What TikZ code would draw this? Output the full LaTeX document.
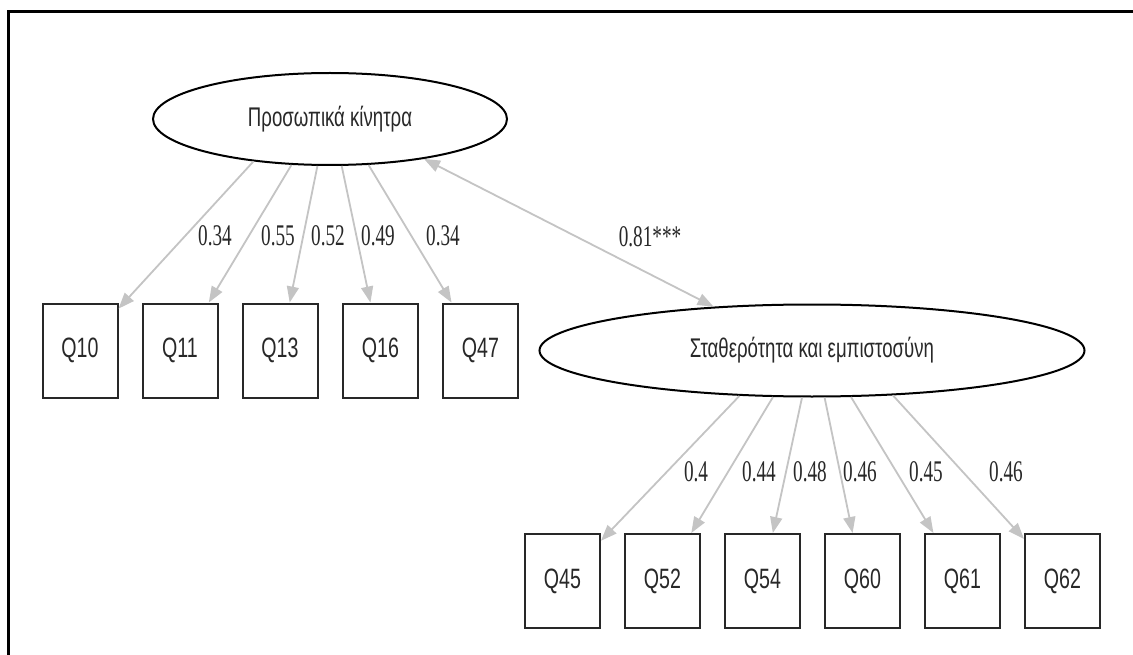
\documentclass[tikz,border=0pt]{standalone}
\usepackage{fontspec}
\usetikzlibrary{shapes.geometric,arrows.meta}
\newfontfamily\latentfont[FakeStretch=0.69]{Liberation Sans}
\newfontfamily\itemfont[FakeStretch=0.7]{Liberation Sans}
\newfontfamily\coeffont[FakeStretch=0.64]{Liberation Serif}
\definecolor{pathgray}{RGB}{196,196,196}
\definecolor{inkgray}{RGB}{40,40,40}
\tikzset{
  latent/.style={ellipse, draw=black, line width=2pt, inner sep=0pt,
    minimum width=#1, minimum height=92pt,
    font=\latentfont\fontsize{27}{30}\selectfont, text=inkgray},
  item/.style={rectangle, draw=inkgray, line width=2pt, inner sep=0pt,
    minimum width=75pt, minimum height=94pt,
    font=\itemfont\fontsize{28}{30}\selectfont, text=inkgray},
  tip/.tip={Triangle[length=16pt,width=12pt]},
  loading/.style={draw=pathgray, line width=1.8pt, -tip},
  covar/.style={draw=pathgray, line width=1.8pt, tip-tip},
  coef/.style={font=\coeffont\fontsize{30}{32}\selectfont, text=inkgray, inner sep=0pt}
}
\begin{document}
\begin{tikzpicture}[x=1pt,y=-1pt]
  \useasboundingbox (0,0) rectangle (1133,655);
  \fill[white] (0,0) rectangle (1133,655);
  % outer frame (left and top edges)
  \draw[line width=3pt, black] (8,655) -- (8,12) -- (1133,12);

  % latent factors
  \node[latent=354pt] (pk) at (330,119) {Προσωπικά κίνητρα};
  \node[latent=545pt] (se) at (812,350.5) {Σταθερότητα και εμπιστοσύνη};

  % indicators of the first factor
  \node[item] (q10) at (80,350.5) {Q10};
  \node[item] (q11) at (180,350.5) {Q11};
  \node[item] (q13) at (280,350.5) {Q13};
  \node[item] (q16) at (380.5,350.5) {Q16};
  \node[item] (q47) at (480.5,350.5) {Q47};

  % indicators of the second factor
  \node[item] (q45) at (562.5,581) {Q45};
  \node[item] (q52) at (662.5,581) {Q52};
  \node[item] (q54) at (762.5,581) {Q54};
  \node[item] (q60) at (862.5,581) {Q60};
  \node[item] (q61) at (962.5,581) {Q61};
  \node[item] (q62) at (1062.5,581) {Q62};

  % loadings, first factor
  \draw[loading] (pk.209.9) -- (q10);
  \draw[loading] (pk.230.6) -- (q11);
  \draw[loading] (pk.255.3) -- (q13);
  \draw[loading] (pk.284.7) -- (q16);
  \draw[loading] (pk.310.2) -- (q47);

  % loadings, second factor
  \draw[loading] (se.212.4) -- (q45);
  \draw[loading] (se.230.9) -- (q52);
  \draw[loading] (se.258.9) -- (q54);
  \draw[loading] (se.285.8) -- (q60);
  \draw[loading] (se.310.6) -- (q61);
  \draw[loading] (se.331.2) -- (q62);

  % factor covariance
  \draw[covar] (pk.337.2) -- (se.156.4);

  % coefficients
  \node[coef] (c10) at (215,236) {0.34};
  \node[coef] (c11) at (278,236) {0.55};
  \node[coef] (c13) at (328,236) {0.52};
  \node[coef] (c16) at (378,236) {0.49};
  \node[coef] (c47) at (443,236) {0.34};
  \node[coef] (cov) at (650,237) {0.81***};
  \node[coef] (c45) at (696,472) {0.4};
  \node[coef] (c52) at (759,472) {0.44};
  \node[coef] (c54) at (810,472) {0.48};
  \node[coef] (c60) at (860,472) {0.46};
  \node[coef] (c61) at (926,472) {0.45};
  \node[coef] (c62) at (1006,472) {0.46};
\end{tikzpicture}
\end{document}
